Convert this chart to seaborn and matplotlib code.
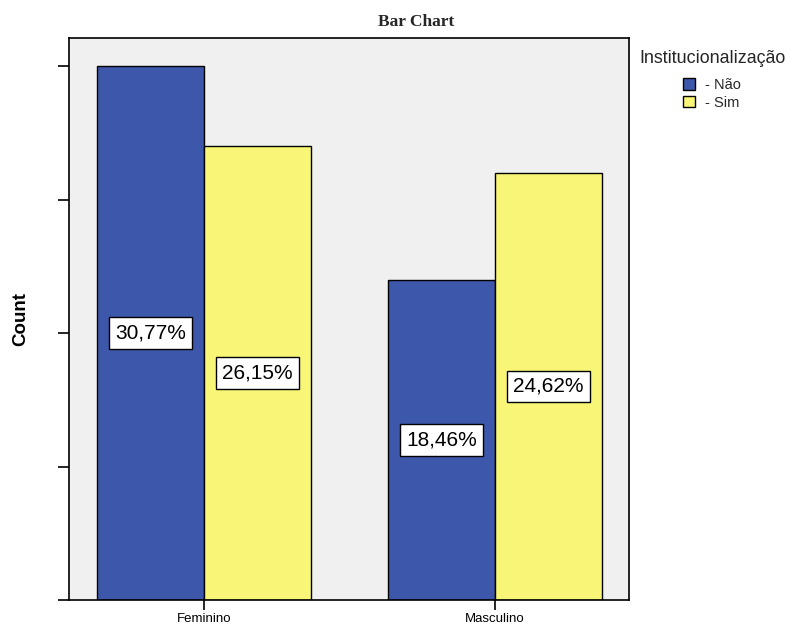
import matplotlib
matplotlib.use("Agg")
import matplotlib.pyplot as plt
from matplotlib.patches import Patch
import pandas as pd
import seaborn as sns

# Counts per sex and institutionalization status
categories = ["Feminino", "Masculino"]
groups = ["Não", "Sim"]
counts_nao = [20, 12]
counts_sim = [17, 16]
y_ticks = [0, 5, 10, 15, 20]
colors = {"Não": "#3D58AB", "Sim": "#F9F577"}

df = pd.DataFrame({
    "Sexo": categories * 2,
    "Institucionalização": [groups[0]] * 2 + [groups[1]] * 2,
    "Count": counts_nao + counts_sim,
})
total = df["Count"].sum()

sns.set_theme(style="white")
plt.rcParams["font.family"] = ["Liberation Sans", "DejaVu Sans"]

fig = plt.figure(figsize=(7.88, 6.25), dpi=100)
W, H = 788, 625
ax = fig.add_axes([69 / W, (H - 600) / H, 560 / W, 562 / H])
ax.set_facecolor("#F0F0F0")

sns.barplot(
    data=df, x="Sexo", y="Count", hue="Institucionalização",
    order=categories, hue_order=groups, palette=colors,
    width=0.737, dodge=True, edgecolor="black", linewidth=1.0,
    legend=False, ax=ax, errorbar=None, saturation=1,
)

ax.set_xlim(-0.464, 1.46)
ax.set_ylim(0, 21.05)
ax.set_yticks(y_ticks)
ax.set_yticklabels([])
ax.tick_params(axis="y", which="major", direction="out", length=8, width=1.2,
               color="black", left=True)
ax.tick_params(axis="x", which="major", direction="out", length=7, width=1.2,
               color="black", bottom=True, labelsize=9.5, pad=2)
for s in ax.spines.values():
    s.set_visible(True)
    s.set_color("black")
    s.set_linewidth(1.2)

ax.set_xlabel("")
ax.set_ylabel("Count", fontsize=13.5, fontweight="bold", color="black")
ax.yaxis.set_label_coords(-0.071, 0.5)
for lbl in ax.get_xticklabels():
    lbl.set_color("black")

# Percentage labels in white boxes at bar centres
for cont, grp in zip(ax.containers, groups):
    vals = df[df["Institucionalização"] == grp].set_index("Sexo").loc[categories, "Count"]
    labels = [f"{v / total * 100:.2f}%".replace(".", ",") for v in vals]
    ax.bar_label(cont, labels=labels, label_type="center", fontsize=15,
                 color="black",
                 bbox=dict(boxstyle="square,pad=0.3", facecolor="white",
                           edgecolor="black", linewidth=1.0))

fig.text(416 / W, 1 - 22 / H, "Bar Chart", ha="center", va="center",
         fontsize=12.5, fontweight="bold", family="Liberation Serif")

handles = [Patch(facecolor=colors[g], edgecolor="black", linewidth=1.0) for g in groups]
leg = fig.legend(handles, [f"- {g}" for g in groups],
                 title="Institucionalização", loc="upper left",
                 bbox_to_anchor=(639 / W, 1 - 50 / H), frameon=False,
                 fontsize=10.5, title_fontsize=12.9, handlelength=0.8,
                 handleheight=0.8, handletextpad=0.7, labelspacing=0.25,
                 borderpad=0, borderaxespad=0)
# extra gap between the legend title and its entries
leg._legend_box.sep = 8

fig.savefig("out.png", dpi=100)
